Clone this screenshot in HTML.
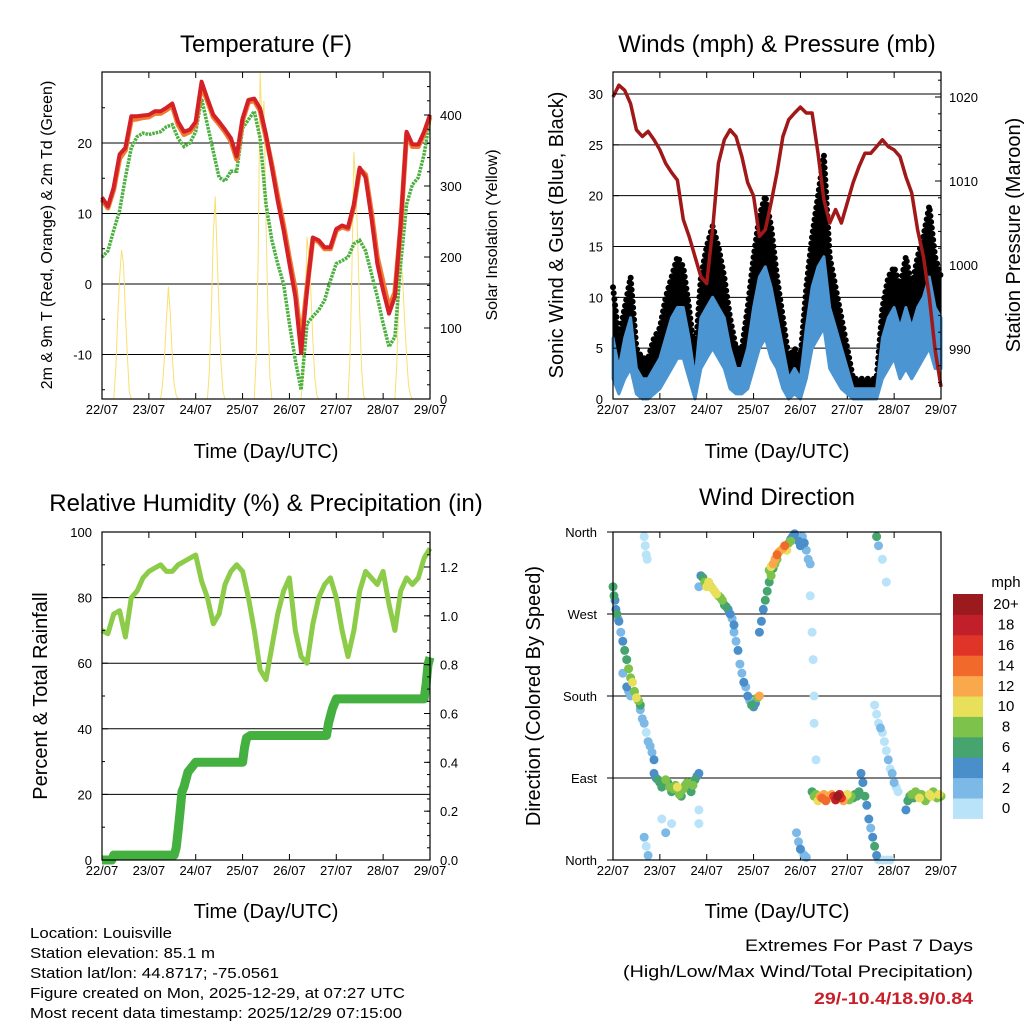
<!DOCTYPE html>
<html><head><meta charset="utf-8"><style>
html,body{margin:0;padding:0;background:#fff;}
svg{display:block;font-family:"Liberation Sans",sans-serif;}
</style></head><body>
<svg id="fig" width="1024" height="1024" viewBox="0 0 1024 1024" xmlns="http://www.w3.org/2000/svg"></svg>
<script>
// ---------- DATA ----------
const dayLabels = ["22/07","23/07","24/07","25/07","26/07","27/07","28/07","29/07"];
const hours3 = [0,3,6,9,12,15,18,21,24,27,30,33,36,39,42,45,48,51,54,57,60,63,66,69,72,75,78,81,84,87,90,93,96,99,102,105,108,111,114,117,120,123,126,129,132,135,138,141,144,147,150,153,156,159,162,165,168];
const tempRed = [12.3,11,13.7,18.4,19.3,23.8,23.8,23.9,24,24.5,24.5,25,25.6,23,21.6,21.9,23,28.7,26.3,24,23,21.9,20.7,18.1,23.5,26.1,26.3,24.9,21.2,16.5,11.8,7.6,2.9,-1.8,-9.8,-0.9,6.6,6.2,5.2,5.2,7.8,8.3,8.0,11.3,16.5,15.1,9.4,2.9,-0.9,-4.2,-1.8,8.5,21.6,19.8,19.8,21.6,24];
const tempOrange = [12,10.8,13.4,17.8,19,23.3,23.4,23.6,23.7,24.2,24.2,24.7,25.3,22.6,21.2,21.6,22.7,28.2,26,23.7,22.7,21.6,20.3,17.7,23.2,25.8,26,24.6,20.8,16.9,12.4,8.3,3.6,-0.8,-8.5,-0.5,6.4,6,5,5,7.6,8.1,7.8,11,16.3,15.5,10.2,3.8,0.2,-3.3,-1.2,8.2,21.3,19.5,19.5,21.3,23.7];
const dewGreen = [3.8,4.7,7.6,10.4,15.1,19.3,20.9,21.4,21.2,21.4,21.6,22.3,22.6,20.7,19.5,20,21.6,26.3,22.6,18.8,15.1,14.6,16,16,22.1,23.3,24.5,20.7,11.3,6.2,2.9,0.0,-5.6,-10.8,-15,-5.6,-4.6,-3.7,-2.3,0.5,2.9,3.3,3.8,5.7,6.2,4.7,1.5,-1.8,-5.6,-8.9,-7.5,2.9,11.3,14.1,15.1,18.4,23.5];
const solarHour = [0,6,7,8,9,10,11,12,13,14,15,30,31,32,33,34,35,36,37,38,39,54,55,56,57,58,59,60,61,62,63,78,79,80,81,82,83,84,85,86,87,102,103,104,105,106,107,108,109,110,111,126,127,128,129,130,131,132,133,134,135,150,151,152,153,154,155,156,157,158,159,168];
const solarVal = [0,0,40,110,170,210,190,120,60,10,0,0,20,60,110,158,120,60,20,5,0,0,40,120,230,285,200,120,50,10,0,0,60,200,460,380,420,250,120,30,0,0,40,120,228,200,150,80,30,5,0,0,60,180,348,300,220,120,40,5,0,0,50,140,200,170,110,60,20,5,0,0];
const pressure = [1020,1021.4,1020.8,1019.2,1016.1,1015.3,1015.9,1014.9,1013.7,1012.1,1011,1010.1,1005.4,1003.4,1001,998.6,997.8,1004.2,1012.1,1014.9,1016.1,1015.3,1012.9,1009.8,1008.2,1003.4,1004.2,1007.4,1011,1015.3,1017.3,1018.1,1018.8,1018.1,1018.1,1013.3,1007.8,1005,1006.6,1005,1007.4,1009.8,1011.7,1013.3,1013.3,1014.1,1014.9,1014.1,1013.7,1012.9,1010.5,1008.6,1004.2,1001,996.2,989.9,985.5];
const windMean = [6,3,6,8,3,2,2,3,4,6,8,9,9,6,2,8,9,10,9,8,5,3,3,5,9,12,13,11,8,5,2,3,2,7,11,13,14,9,7,5,3,1,1,1,1,1,6,8,9,7,9,7,9,10,12,9,8];
const windLow = [2,0.5,2,3,0.5,0,0,0.5,1,2,3,4,4,2,0,3,4,5,4,3,1,0.5,0.5,1,3,5,6,4,3,1,0,0.5,0,2,5,6,7,3,2,1,0.5,0,0,0,0,0,2,3,4,2,3,2,3,4,5,3,3];
const windGust = [11,6,9,12,5,4,4,6,7,10,12,14,13,9,4,12,15,17,15,12,8,5,5,9,14,18,20,17,12,8,4,5,4,11,16,20,24,14,11,8,5,2,2,2,2,2,9,12,13,11,14,11,14,16,19,14,12];
const rh = [70,69,75,76,68,80,82,86,88,89,90,88,88,90,91,92,93,85,80,72,75,84,88,90,88,80,70,58,55,65,75,82,86,70,62,60,72,80,84,86,80,70,62,70,82,88,86,84,88,78,70,82,86,84,86,92,95];
const precipHour = [0,5,6,37,38,39,40,41,42,44,48,72,73,74,76,115,116,118,120,165,166,167,168];
const precipVal = [0,0,0.02,0.02,0.05,0.12,0.2,0.28,0.3,0.36,0.4,0.4,0.46,0.5,0.51,0.51,0.56,0.62,0.66,0.66,0.72,0.8,0.83];
const wdHour = [0,0.5,1,1.5,2,2.5,3, 4,5,6,7,8,9,10,11,12,13,14, 5,7,8,9, 16,16.5,17,17.5, 14,15,16,17,18,19,20,21, 16,17,18,
 21,22,23,24,25,26,27,28,29,30,31,32,33,34,35,36,37,38,39,40,41,42,43,44, 25,27,30,44,44,
 44,45,46,47,48,49,50,51,52,53,54,55,56,57,58,59,60,61,62, 62,63,64,65,66,67,68,69,70,71,72,73,74,75,
 75,76,77,78,79,80,81,82,83,84, 80,81,82,83,84,85,86,87,88,89,90,91, 91,92,93,94,95,96,97,98,99,100,101,
 101,102,102.5,103,103,104, 94,95,96,97,98,99,
 102,103,104,105,106,107,108,109,110,111,112,113,114,115,116,117,118,119,120,121,122,123,124,125,126,
 127,128,129,130,131,132,133,134,135, 134,135,136,137,138,139,140,141,142,143,144,145,146, 135,136,138,140, 136,138,140,142,
 150,151,152,153,154,155,156,157,158,159,160,161,162,163,164,165,166,167,168];
const wdDeg = [300,290,285,275,270,265,262, 250,240,230,220,210,200,195,185,178,175,170, 205,190,185,180, 355,345,335,330, 165,155,150,140,130,125,118,110, 25,15,5,
 95,90,88,85,80,82,88,85,80,75,78,82,80,72,70,78,82,85,80,75,82,88,92,95, 45,30,40,55,40,
 300,312,310,305,300,305,300,298,295,292,290,288,285,280,278,275,270,265,258, 250,240,230,215,205,195,190,180,175,170,168,172,178,180,
 250,262,275,285,295,305,312,320,325,330, 318,322,325,330,335,338,340,342,345,340,348,350, 352,355,358,355,350,345,355,348,340,330,325,
 290,250,220,180,150,110, 30,20,12,8,5,3,
 75,70,72,65,70,68,72,65,70,68,72,70,66,70,72,68,65,70,72,66,70,68,72,70,75,
 95,85,70,60,45,35,25,15,5, 170,160,150,145,140,130,120,110,100,95,85,80,75, 355,345,330,305, 0,0,0,0,
 55,65,70,72,68,75,70,68,72,70,65,68,72,70,75,70,68,72,70];
const wdSpd = [6,7,5,4,6,3,4, 3,4,6,7,8,9,10,9,10,8,7, 3,4,3,2, 1,1,0,1, 2,2,3,1,2,3,2,4, 2,1,2,
 4,5,6,6,7,6,8,7,8,7,8,9,10,8,7,8,9,8,7,6,8,7,5,4, 1,2,1,0,1,
 2,4,6,8,10,10,9,10,11,10,9,8,9,7,6,5,4,3,4, 2,3,4,2,3,4,2,4,3,6,5,4,8,12,
 4,5,4,6,6,7,8,7,9,8, 8,10,12,13,14,12,11,13,15,10,8,8, 4,5,4,3,5,4,3,4,2,3,2,
 1,0,1,0,1,0, 3,2,4,1,2,3,
 6,8,9,11,12,14,13,15,12,11,13,17,19,20,18,16,12,10,11,9,8,7,6,7,6,
 4,5,6,4,5,3,4,6,4, 0,1,1,2,1,0,1,2,1,3,2,1,0, 6,3,0,0, 0,0,0,0,
 5,6,7,8,7,9,8,10,9,7,8,9,10,11,9,8,9,10,8];
const speedBins = ["0","2","4","6","8","10","12","14","16","18","20+"];
const speedColors = ["#b8e3f8","#7cb9e6","#4a8fc9","#46a46e","#7cc24b","#e8e05a","#f9a94b","#f26a2b","#e03428","#c1202a","#9b1a1e"];

// ---------- HELPERS ----------
const NS="http://www.w3.org/2000/svg";
const svg=document.getElementById('fig');
function el(tag,attrs,parent,txt){const e=document.createElementNS(NS,tag);for(const k in attrs)e.setAttribute(k,attrs[k]);if(txt!==undefined)e.textContent=txt;(parent||svg).appendChild(e);return e;}
function lin(d0,d1,r0,r1){return v=>r0+(v-d0)*(r1-r0)/(d1-d0);}
function pts(xs,ys,fx,fy){return xs.map((x,i)=>fx(x).toFixed(1)+","+fy(ys[i]).toFixed(1)).join(" ");}
function text(x,y,s,size,anchor,extra,parent){return el('text',Object.assign({x:x,y:y,'font-size':size,'text-anchor':anchor||'middle',fill:'#000'},extra||{}),parent,s);}
function frame(g,L,T,R,B){el('rect',{x:L,y:T,width:R-L,height:B-T,fill:'none',stroke:'#000','stroke-width':1.2},g);}
function xAxis(g,L,R,T,B){
  const fx=lin(0,168,L,R);
  for(let d=0;d<=7;d++){
    const x=fx(d*24);
    el('line',{x1:x,y1:B,x2:x,y2:B-6,stroke:'#000','stroke-width':1},g);
    el('line',{x1:x,y1:T,x2:x,y2:T+6,stroke:'#000','stroke-width':1},g);
    const t=text(x,B+15,dayLabels[d],13,'middle',{},g);
    
    
  }
  return fx;
}
function hgrid(g,L,R,ys){ys.forEach(y=>el('line',{x1:L,y1:y,x2:R,y2:y,stroke:'#000','stroke-width':1},g));}
function yTicks(g,x,ys,dir,len){ys.forEach(y=>el('line',{x1:x,y1:y,x2:x+dir*len,y2:y,stroke:'#000','stroke-width':1},g));}

// ---------- PANEL 1: TEMPERATURE ----------
(function(){
  const g=el('g',{});  
  const L=102,R=430,T=72,B=399;
  const yT=v=>284-v*7.05;
  const yS=lin(0,400,399,115);
  hgrid(g,L,R,[20,10,0,-10].map(yT));
  const fx=xAxis(g,L,R,T,B);
  const sol=el('polyline',{points:pts(solarHour,solarVal,fx,yS),fill:'none',stroke:'#f8e070','stroke-width':1},g);
   
  const dg=el('polyline',{points:pts(hours3,dewGreen,fx,yT),fill:'none',stroke:'#4cb040','stroke-width':3.5,'stroke-dasharray':'2.5 1'},g);
   
  const og=el('polyline',{points:pts(hours3,tempOrange,fx,yT),fill:'none',stroke:'#f07a30','stroke-width':5,'stroke-linejoin':'round'},g);
   
  const rd=el('polyline',{points:pts(hours3,tempRed,fx,yT),fill:'none',stroke:'#d42027','stroke-width':4,'stroke-linejoin':'round'},g);
   
  frame(g,L,T,R,B);
  [20,10,0,-10].forEach(v=>{const t=text(L-10,yT(v)+5,String(v),13,'end',{},g);});
  yTicks(g,L,[20,10,0,-10].map(yT),1,6);
  yTicks(g,L,[25,15,5,-5,-15].map(yT),1,3);
  [0,100,200,300,400].forEach(v=>{const t=text(R+10,yS(v)+5,String(v),13,'start',{},g);});
  yTicks(g,R,[0,100,200,300,400].map(yS),-1,6);
  for(let v=20;v<460;v+=20){if(v%100)yTicks(g,R,[yS(v)],-1,3);}
  const tt=text(266,52,'Temperature (F)',24,'middle',{},g);  
  const xt=text(266,458,'Time (Day/UTC)',20,'middle',{},g);  
  const yl=text(0,0,'2m & 9m T (Red, Orange) & 2m Td (Green)',16,'middle',{transform:'translate(52,235) rotate(-90)'},g);  
  const yr=text(0,0,'Solar Insolation (Yellow)',16,'middle',{transform:'translate(497,235) rotate(-90)'},g);  
})();

// ---------- PANEL 2: WINDS ----------
(function(){
  const g=el('g',{});  
  const L=613,R=941,T=72,B=399;
  const yW=lin(0,30,399,94);
  const yP=lin(990,1020,349,97);
  hgrid(g,L,R,[5,10,15,20,25,30].map(yW));
  const fx=xAxis(g,L,R,T,B);
  const rev=hours3.map((h,i)=>i).reverse();
  const band=hours3.map((h,i)=>fx(h).toFixed(1)+","+yW(windGust[i]).toFixed(1)).join(" ")+" "+rev.map(i=>fx(hours3[i]).toFixed(1)+","+yW(windLow[i]).toFixed(1)).join(" ");
  const gb=el('polygon',{points:band,fill:'#000'},g);  
  const gl=el('polyline',{points:pts(hours3,windGust,fx,yW),fill:'none',stroke:'#000','stroke-width':6,'stroke-linecap':'round','stroke-dasharray':'0 6'},g);
   
  const bb=hours3.map((h,i)=>fx(h).toFixed(1)+","+yW(windMean[i]).toFixed(1)).join(" ")+" "+rev.map(i=>fx(hours3[i]).toFixed(1)+","+yW(windLow[i]).toFixed(1)).join(" ");
  const bw=el('polygon',{points:bb,fill:'#4a95d2',stroke:'#4a95d2','stroke-width':3,'stroke-linejoin':'round'},g);
   
  const pl=el('polyline',{points:pts(hours3,pressure,fx,yP),fill:'none',stroke:'#a01818','stroke-width':3.5,'stroke-linejoin':'round'},g);
   
  frame(g,L,T,R,B);
  [0,5,10,15,20,25,30].forEach(v=>{const t=text(L-10,yW(v)+5,String(v),13,'end',{},g);});
  yTicks(g,L,[0,5,10,15,20,25,30].map(yW),1,6);
  [990,1000,1010,1020].forEach(v=>{const t=text(R+8,yP(v)+5,String(v),13,'start',{},g);});
  yTicks(g,R,[990,1000,1010,1020].map(yP),-1,6);
  for(let v=986;v<=1022;v+=2){if(v%10)yTicks(g,R,[yP(v)],-1,3);}
  const tt=text(777,52,'Winds (mph) & Pressure (mb)',24,'middle',{},g);  
  const xt=text(777,458,'Time (Day/UTC)',20,'middle',{},g);  
  const yl=text(0,0,'Sonic Wind & Gust (Blue, Black)',20,'middle',{transform:'translate(563,235) rotate(-90)'},g);  
  const yr=text(0,0,'Station Pressure (Maroon)',20,'middle',{transform:'translate(1020,235) rotate(-90)'},g);  
})();

// ---------- PANEL 3: RH & PRECIP ----------
(function(){
  const g=el('g',{});  
  const L=102,R=430,T=532,B=860;
  const yH=lin(0,100,860,532);
  const yR=lin(0,1.2,860,567);
  hgrid(g,L,R,[20,40,60,80].map(yH));
  const fx=xAxis(g,L,R,T,B);
  const rl=el('polyline',{points:pts(hours3,rh,fx,yH),fill:'none',stroke:'#8ccc48','stroke-width':5,'stroke-linejoin':'round'},g);
   
  const pr=el('polyline',{points:pts(precipHour,precipVal,fx,yR),fill:'none',stroke:'#44b040','stroke-width':9,'stroke-linejoin':'round'},g);
   
  frame(g,L,T,R,B);
  [0,20,40,60,80,100].forEach(v=>{const t=text(L-10,yH(v)+5,String(v),13,'end',{},g);});
  yTicks(g,L,[0,20,40,60,80,100].map(yH),1,6);
  yTicks(g,L,[10,30,50,70,90].map(yH),1,3);
  ["0.0","0.2","0.4","0.6","0.8","1.0","1.2"].forEach(s=>{const t=text(R+10,yR(parseFloat(s))+5,s,13,'start',{},g);});
  yTicks(g,R,[0,0.2,0.4,0.6,0.8,1.0,1.2].map(yR),-1,6);
  for(let v=0.05;v<1.34;v+=0.05){yTicks(g,R,[yR(v)],-1,3);}
  const tt=text(266,511,'Relative Humidity (%) & Precipitation (in)',24,'middle',{},g);  
  const xt=text(266,918,'Time (Day/UTC)',20,'middle',{},g);  
  const yl=text(0,0,'Percent & Total Rainfall',20,'middle',{transform:'translate(47,696) rotate(-90)'},g);  
})();

// ---------- PANEL 4: WIND DIRECTION ----------
(function(){
  const g=el('g',{});  
  const L=613,R=941,T=532,B=860;
  const yD=lin(0,360,860,532);
  hgrid(g,L,R,[90,180,270].map(yD));
  const fx=xAxis(g,L,R,T,B);
  const order=wdSpd.map((s,i)=>i).sort((a,b)=>wdSpd[a]-wdSpd[b]);
  order.forEach(i=>{
    const bin=Math.min(10,Math.floor(wdSpd[i]/2));
    const c=el('circle',{cx:fx(wdHour[i]).toFixed(1),cy:yD(wdDeg[i]).toFixed(1),r:4.5,fill:speedColors[bin]},g);
    
    
  });
  frame(g,L,T,R,B);
  const labs=["North","East","South","West","North"];
  [0,90,180,270,360].forEach((v,i)=>{const t=text(L-16,yD(v)+5,labs[i],13,'end',{},g);});
  yTicks(g,L,[0,90,180,270,360].map(yD),-1,6);
  yTicks(g,R,[0,90,180,270,360].map(yD),-1,6);
  const tt=text(777,505,'Wind Direction',24,'middle',{},g);  
  const xt=text(777,918,'Time (Day/UTC)',20,'middle',{},g);  
  const yl=text(0,0,'Direction (Colored By Speed)',20,'middle',{transform:'translate(540,696) rotate(-90)'},g);  
  const cb=el('g',{},g);  
  const h=20.4, top=594;
  speedBins.forEach((lab,i)=>{
    const k=speedBins.length-1-i;
    const y=top+k*h;
    const r=el('rect',{x:953,y:y.toFixed(1),width:30,height:(h+0.5).toFixed(1),fill:speedColors[i]},cb);
     
    const t=text(1006,y+h/2+5,lab,15,'middle',{},cb);
     
  });
  const m=text(1006,587,'mph',15,'middle',{},cb);  
})();

// ---------- FOOTER ----------
(function(){
  const g=el('g',{});  
  const lines=[["Location: Louisville",142],["Station elevation: 85.1 m",185],["Station lat/lon: 44.8717; -75.0561",249],["Figure created on Mon, 2025-12-29, at 07:27 UTC",375],["Most recent data timestamp: 2025/12/29 07:15:00",372]];
  lines.forEach((l,i)=>{const t=text(30,938+i*20,l[0],15,'start',{textLength:l[1],lengthAdjust:'spacingAndGlyphs'},g);});
  const g2=el('g',{});  
  const a=text(973,951,'Extremes For Past 7 Days',17,'end',{textLength:228,lengthAdjust:'spacingAndGlyphs'},g2);  
  const b=text(973,977,'(High/Low/Max Wind/Total Precipitation)',17,'end',{textLength:350,lengthAdjust:'spacingAndGlyphs'},g2);  
  const c=text(973,1004,'29/-10.4/18.9/0.84',17,'end',{fill:'#c8202a','font-weight':'bold',textLength:159,lengthAdjust:'spacingAndGlyphs'},g2);  
})();
</script>
</body></html>
